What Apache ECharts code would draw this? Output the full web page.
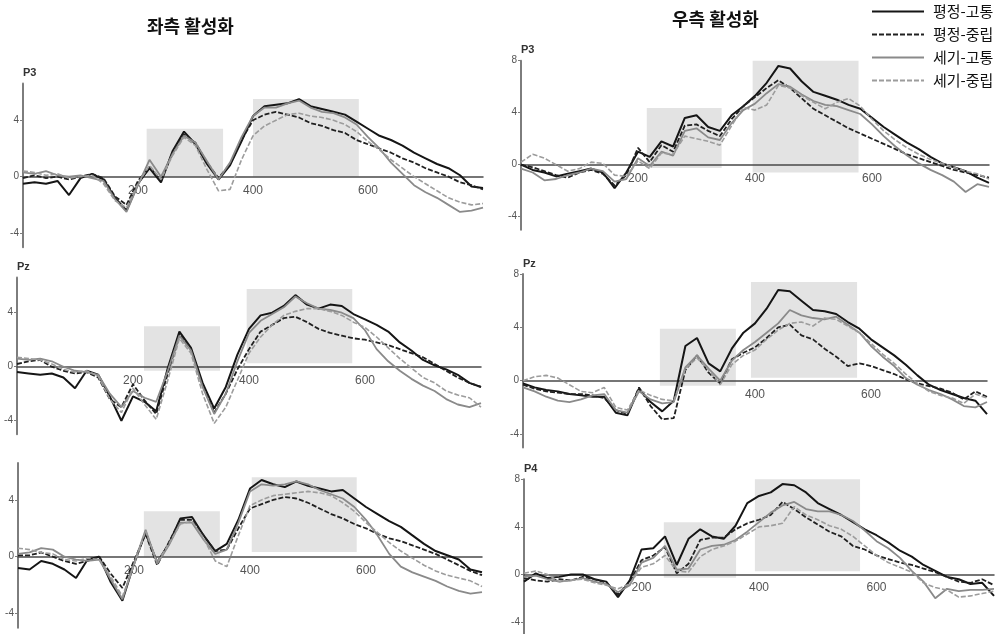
<!DOCTYPE html>
<html>
<head>
<meta charset="utf-8">
<script src="https://cdn.jsdelivr.net/npm/echarts@6/dist/echarts.min.js"></script>
<style>
html, body { margin: 0; padding: 0; background: #fff; }
#chart { width: 1000px; height: 634px; }
</style>
</head>
<body>
<div id="chart"></div>
<script>
// time points (ms)
var times = [0,20,40,60,80,100,120,140,160,180,200,220,240,260,280,300,320,340,360,380,400,
             420,440,460,480,500,520,540,560,580,600,620,640,660,680,700,720,740,760,780,800];
var conditions = ['평정-고통', '평정-중립', '세기-고통', '세기-중립'];
var xTicks = [200, 400, 600];
var xTicksPzRight = [400, 600];
var yTicksLeft = [-4, 0, 4];
var yTicksRight = [-4, 0, 4, 8];

// 좌측 활성화 - P3
var lP3_rp = [-0.5,-0.4,-0.5,-0.3,-1.3,-0.1,0.2,-0.2,-1.5,-2.4,-0.5,0.6,-0.4,1.8,3.2,2.3,0.9,-0.2,0.8,2.5,4.3,5.0,5.1,5.2,5.5,5.0,4.8,4.6,4.4,3.9,3.4,2.9,2.6,2.2,1.7,1.3,0.9,0.6,0.1,-0.7,-0.8];
var lP3_rn = [-0.1,0.1,-0.1,0.0,-0.2,0.0,0.2,-0.1,-1.4,-2.0,-0.3,0.7,-0.3,1.7,3.0,2.4,1.0,-0.1,0.9,2.6,4.0,4.4,4.6,4.4,4.2,3.8,3.6,3.3,3.1,2.6,2.3,2.0,1.7,1.3,1.0,0.6,0.3,0.0,-0.4,-0.6,-0.9];
var lP3_ip = [0.3,0.2,0.4,0.1,0.0,0.1,-0.1,-0.3,-1.6,-2.5,-0.6,1.2,0.0,1.6,2.9,2.4,1.1,-0.2,1.0,2.8,4.3,4.9,4.9,5.2,5.4,4.9,4.6,4.5,4.2,3.7,2.8,2.0,1.0,0.2,-0.6,-1.1,-1.5,-2.0,-2.5,-2.4,-2.2];
var lP3_in = [0.4,0.3,0.1,0.2,-0.1,0.0,0.1,-0.5,-1.7,-2.2,-0.5,0.8,-0.2,1.5,2.8,2.2,0.5,-1.0,-0.9,1.2,2.9,3.6,4.0,4.4,4.5,4.3,4.2,4.0,3.7,3.2,2.5,1.9,1.2,0.6,0.0,-0.5,-1.0,-1.5,-1.8,-2.0,-1.9];
// 좌측 활성화 - Pz
var lPz_rp = [-0.4,-0.5,-0.6,-0.5,-0.8,-1.6,-0.3,-0.6,-2.2,-4.0,-2.2,-2.6,-3.3,-0.1,2.6,1.4,-1.2,-3.1,-1.5,0.9,2.8,3.8,4.0,4.5,5.3,4.6,4.3,4.6,4.5,3.9,3.5,3.1,2.6,1.8,1.2,0.5,0.1,-0.2,-0.6,-1.2,-1.5];
var lPz_rn = [0.2,0.4,0.5,0.0,-0.3,-0.5,-0.4,-0.8,-2.4,-3.0,-1.3,-2.5,-3.5,-0.5,2.4,1.3,-1.4,-3.4,-2.0,-0.2,1.3,2.6,3.1,3.6,3.7,3.3,2.8,2.5,2.3,2.1,2.0,1.8,1.6,1.3,1.0,0.7,0.2,-0.3,-0.8,-1.2,-1.5];
var lPz_ip = [0.6,0.5,0.6,0.4,0.0,-0.3,-0.4,-0.6,-2.0,-3.0,-1.8,-2.3,-2.6,-0.3,2.3,1.2,-1.5,-3.5,-2.0,0.4,2.5,3.4,3.9,4.4,5.2,4.7,4.3,4.2,4.0,3.6,2.7,1.3,0.4,-0.3,-0.9,-1.4,-1.8,-2.4,-2.8,-3.0,-2.7];
var lPz_in = [0.7,0.6,0.5,0.2,-0.2,-0.4,-0.3,-0.7,-2.4,-3.4,-1.6,-2.8,-3.9,-1.0,2.1,1.0,-2.0,-4.2,-3.0,-1.0,1.0,2.2,3.1,3.8,4.1,4.3,4.3,4.1,3.8,3.3,2.9,2.2,1.4,0.6,-0.1,-0.8,-1.2,-1.8,-2.1,-2.3,-3.0];
// 좌측 활성화 - bottom row
var lBt_rp = [-0.8,-0.9,-0.3,-0.5,-0.9,-1.5,-0.2,0.0,-1.8,-3.1,-0.5,1.7,-0.4,0.9,2.7,2.8,1.5,0.4,0.9,2.6,4.8,5.4,5.1,4.9,5.3,5.0,4.8,4.6,4.7,4.1,3.5,3.0,2.5,2.1,1.5,0.9,0.4,0.1,-0.2,-0.9,-1.1];
var lBt_rn = [0.1,0.1,0.3,0.0,-0.3,-0.5,-0.3,0.0,-1.2,-2.2,-0.3,1.6,-0.6,1.0,2.6,2.6,1.5,0.4,0.5,2.0,3.4,3.7,4.0,4.2,4.1,3.8,3.4,3.0,2.7,2.3,2.0,1.6,1.3,1.1,0.8,0.5,0.2,-0.2,-0.6,-1.0,-1.3];
var lBt_ip = [0.2,0.3,0.6,0.5,0.0,-0.2,-0.3,-0.2,-1.6,-3.0,-0.5,1.9,-0.5,0.8,2.4,2.4,1.2,0.2,0.5,2.4,4.6,5.1,5.0,5.1,5.3,5.1,4.7,4.4,4.1,3.5,2.6,1.5,0.2,-0.7,-1.1,-1.4,-1.7,-2.1,-2.4,-2.6,-2.5];
var lBt_in = [0.6,0.5,0.3,0.2,-0.2,-0.3,-0.1,-0.2,-1.4,-2.8,-0.6,1.8,-0.4,0.9,2.3,2.5,1.3,-0.3,-0.7,1.5,3.6,4.0,4.3,4.4,4.5,4.6,4.5,4.3,3.8,3.2,2.4,1.7,1.0,0.4,-0.1,-0.6,-1.0,-1.3,-1.5,-1.7,-2.1];
// 우측 활성화 - P3
var rP3_rp = [0.0,-0.4,-0.6,-0.9,-0.7,-0.5,-0.3,-0.6,-1.8,-0.6,1.0,0.6,1.8,1.4,3.6,3.8,2.9,2.6,3.8,4.5,5.3,6.3,7.6,7.4,6.4,5.6,5.3,5.0,4.6,4.3,3.6,2.9,2.3,1.7,1.2,0.6,0.1,-0.2,-0.5,-1.0,-1.4];
var rP3_rn = [0.0,-0.2,-0.5,-0.8,-1.0,-0.6,-0.4,-0.7,-1.6,-0.8,1.3,0.2,1.5,1.0,3.0,3.1,2.6,2.2,3.5,4.5,5.2,5.9,6.5,5.9,5.1,4.3,3.8,3.3,2.8,2.4,2.0,1.6,1.2,0.8,0.5,0.2,-0.1,-0.4,-0.6,-0.8,-1.0];
var rP3_ip = [-0.3,-0.6,-1.2,-1.1,-0.8,-0.6,-0.3,-0.5,-1.3,-1.1,0.5,-0.1,1.0,0.7,2.6,2.8,2.1,1.9,3.2,4.2,4.7,5.5,6.2,6.0,5.4,4.9,4.6,4.5,4.2,3.9,3.1,2.2,1.4,0.7,0.1,-0.4,-0.8,-1.3,-2.1,-1.5,-1.7];
var rP3_in = [0.2,0.8,0.5,0.0,-0.5,-0.3,0.2,0.1,-0.8,-0.9,0.3,-0.3,0.9,0.8,2.2,2.0,1.8,1.5,3.0,4.4,4.2,4.6,6.1,5.9,5.3,4.8,4.3,4.8,5.1,4.5,3.5,2.6,1.9,1.3,0.8,0.4,0.1,-0.2,-0.5,-0.7,-1.1];
// 우측 활성화 - Pz
var rPz_rp = [-0.2,-0.5,-0.7,-0.8,-1.0,-1.1,-1.2,-1.2,-2.4,-2.6,-0.6,-1.6,-2.3,-1.5,2.6,3.2,1.3,0.7,2.4,3.6,4.3,5.4,6.8,6.7,6.0,5.3,5.2,5.0,4.4,3.9,3.1,2.5,1.9,1.2,0.4,-0.3,-0.7,-1.0,-1.3,-1.5,-2.5];
var rPz_rn = [-0.3,-0.6,-0.8,-0.9,-1.0,-1.0,-1.1,-1.3,-2.2,-2.5,-0.5,-1.9,-2.9,-2.8,0.8,1.9,0.6,-0.2,1.6,2.1,2.5,3.2,4.0,4.2,3.4,3.1,2.4,1.8,1.1,1.3,1.1,0.8,0.5,0.1,-0.2,-0.4,-0.6,-0.9,-1.4,-0.8,-1.2];
var rPz_ip = [-0.5,-0.8,-1.2,-1.5,-1.6,-1.4,-1.1,-1.0,-2.2,-2.4,-0.8,-1.4,-1.7,-1.6,1.0,1.9,0.9,0.0,1.5,2.3,2.9,3.6,4.3,5.3,4.9,4.7,4.6,4.8,4.2,3.6,2.6,1.8,1.1,0.2,-0.3,-0.7,-1.0,-1.4,-1.9,-2.0,-1.6];
var rPz_in = [0.0,0.3,0.4,0.2,-0.3,-0.8,-0.9,-0.5,-2.0,-2.2,-0.7,-1.1,-1.4,-1.5,0.9,1.7,0.8,-0.3,1.2,1.9,2.3,3.1,3.8,4.3,4.4,4.1,4.7,4.6,4.1,3.6,2.8,2.0,1.3,0.5,-0.2,-0.8,-1.1,-1.3,-1.7,-1.0,-1.3];
// 우측 활성화 - P4
var rP4_rp = [-0.6,0.1,-0.3,-0.2,0.0,0.0,-0.4,-0.6,-1.9,-0.5,2.1,2.2,3.2,0.8,3.0,3.8,3.2,3.0,4.1,6.0,6.6,6.9,7.6,7.5,6.9,6.0,5.5,5.0,4.4,3.8,3.3,2.7,2.0,1.5,0.8,0.3,-0.2,-0.4,-0.8,-0.7,-1.8];
var rP4_rn = [-0.3,-0.5,-0.6,-0.4,-0.5,-0.2,-0.4,-0.7,-1.7,-0.6,1.2,1.6,2.3,0.1,0.9,2.9,3.1,3.1,3.8,4.3,4.6,5.0,6.1,5.5,4.8,4.2,3.6,3.2,2.4,2.1,1.6,1.3,1.0,0.8,0.5,0.2,-0.2,-0.6,-0.7,-0.4,-0.9];
var rP4_ip = [-0.2,-0.1,-0.4,-0.6,-0.5,-0.3,-0.6,-0.8,-1.5,-0.9,1.0,1.4,2.4,0.4,0.5,2.1,2.4,2.5,2.9,3.6,4.4,5.2,5.8,6.1,5.5,5.3,5.3,5.0,4.5,3.7,2.8,2.2,1.4,0.3,-0.6,-2.0,-1.2,-1.4,-1.3,-1.3,-1.2];
var rP4_in = [0.1,0.3,0.0,-0.6,-0.5,-0.4,-0.7,-0.9,-1.2,-0.8,0.6,0.9,1.6,0.3,0.2,1.5,2.1,2.4,2.8,3.4,4.0,4.1,4.3,5.7,5.0,4.6,4.1,3.8,3.2,2.4,1.6,1.0,0.6,0.2,-0.7,-1.1,-1.3,-1.9,-1.8,-1.6,-1.4];

// shaded windows: [x0, x1, y0, y1]
var boxLP3 = [[215, 348, 0, 3.4], [400, 584, 0, 5.5]];
var boxLPz = [[219, 350, -0.3, 3.0], [396, 578, 0.25, 5.75]];
var boxLBt = [[217, 348, 0, 3.2], [403, 584, 0.33, 5.6]];
var boxRP3 = [[215, 343, -0.25, 4.36], [396, 577, -0.6, 8]];
var boxRPz = [[236, 367, -0.37, 3.9], [393, 576, 0.22, 7.4]];
var boxRP4 = [[238, 361, -0.27, 4.4], [393, 572, 0.27, 8.1]];

var yMin = -5;
var panels = [
    { chan: 'P3', yMax: 6.6, yTicks: yTicksLeft, xTicks: xTicks, lines: [lP3_rp, lP3_rn, lP3_ip, lP3_in], boxes: boxLP3,
      grid: { left: 23, top: 83.6, width: 460, height: 163.6 } },
    { chan: 'Pz', yMax: 6.6, yTicks: yTicksLeft, xTicks: xTicks, lines: [lPz_rp, lPz_rn, lPz_ip, lPz_in], boxes: boxLPz,
      grid: { left: 17, top: 277.6, width: 464, height: 156.6 } },
    { chan: '', yMax: 6.6, yTicks: yTicksLeft, xTicks: xTicks, lines: [lBt_rp, lBt_rn, lBt_ip, lBt_in], boxes: boxLBt,
      grid: { left: 18, top: 463, width: 464, height: 164.7 } },
    { chan: 'P3', yMax: 8, yTicks: yTicksRight, xTicks: xTicks, lines: [rP3_rp, rP3_rn, rP3_ip, rP3_in], boxes: boxRP3,
      grid: { left: 521, top: 60.7, width: 468, height: 169 } },
    { chan: 'Pz', yMax: 8, yTicks: yTicksRight, xTicks: xTicksPzRight, lines: [rPz_rp, rPz_rn, rPz_ip, rPz_in], boxes: boxRPz,
      grid: { left: 523, top: 274, width: 464, height: 173.4 } },
    { chan: 'P4', yMax: 8, yTicks: yTicksRight, xTicks: xTicks, lines: [rP4_rp, rP4_rn, rP4_ip, rP4_in], boxes: boxRP4,
      grid: { left: 524, top: 479.3, width: 470, height: 157.1 } }
];

var lineStyles = [
    { color: '#151515', width: 2, type: 'solid' },
    { color: '#202020', width: 1.8, type: [5, 2] },
    { color: '#8a8a8a', width: 1.8, type: 'solid' },
    { color: '#9c9c9c', width: 1.6, type: [5, 2] }
];

var numFont = 'Liberation Sans';
var krFont = 'Noto Sans CJK KR';

function pairs(arr) {
    return times.map(function (t, i) { return [t, arr[i]]; });
}

var grids = [], xAxes = [], yAxes = [], series = [];
panels.forEach(function (p, gi) {
    grids.push(p.grid);
    // labels stay at the grid bottom, so pull them up to sit under the zero line
    var zeroToBottom = p.grid.height * (0 - yMin) / (p.yMax - yMin);
    xAxes.push({
        gridIndex: gi, type: 'value', min: 0, max: 800, z: 2,
        axisLine: { onZero: true, lineStyle: { color: '#4a4a4a', width: 1.5 } },
        axisTick: { show: false },
        axisLabel: { customValues: p.xTicks, color: '#555', fontSize: 12, fontFamily: numFont,
                     margin: 8 - zeroToBottom },
        splitLine: { show: false }
    });
    yAxes.push({
        gridIndex: gi, type: 'value', min: yMin, max: p.yMax,
        name: p.chan, nameLocation: 'end', nameGap: 5,
        nameTextStyle: { color: '#333', fontSize: 11, fontWeight: 'bold', fontFamily: numFont, align: 'left' },
        axisLine: { show: true, onZero: false, lineStyle: { color: '#7d7d7d', width: 2 } },
        axisTick: { show: true, length: 3, customValues: p.yTicks, lineStyle: { color: '#7d7d7d' } },
        axisLabel: { customValues: p.yTicks, color: '#555', fontSize: 10, fontFamily: numFont, margin: 4 },
        splitLine: { show: false }
    });
    p.lines.forEach(function (arr, k) {
        var s = {
            name: conditions[k], type: 'line',
            xAxisIndex: gi, yAxisIndex: gi,
            data: pairs(arr),
            symbol: 'none', z: 3,
            lineStyle: lineStyles[k],
            itemStyle: { color: lineStyles[k].color }
        };
        if (k === 0) {
            s.markArea = {
                silent: true,
                itemStyle: { color: '#e3e3e3' },
                data: p.boxes.map(function (b) {
                    return [{ xAxis: b[0], yAxis: b[2] }, { xAxis: b[1], yAxis: b[3] }];
                })
            };
        }
        series.push(s);
    });
});

var option = {
    backgroundColor: '#fff',
    animation: false,
    title: [
        { text: '좌측 활성화', left: 142, top: 12,
          textStyle: { fontSize: 18, fontWeight: 'bold', color: '#111', fontFamily: krFont } },
        { text: '우측 활성화', left: 667, top: 5,
          textStyle: { fontSize: 18, fontWeight: 'bold', color: '#111', fontFamily: krFont } }
    ],
    legend: {
        data: conditions, orient: 'vertical', left: 866, top: -1,
        itemWidth: 52, itemHeight: 14, itemGap: 8,
        itemStyle: { opacity: 0 },
        textStyle: { fontSize: 15, color: '#111', fontFamily: krFont, padding: [0, 0, 0, 4] }
    },
    grid: grids,
    xAxis: xAxes,
    yAxis: yAxes,
    series: series
};

var myChart = echarts.init(document.getElementById('chart'));
myChart.setOption(option);
</script>
</body>
</html>
